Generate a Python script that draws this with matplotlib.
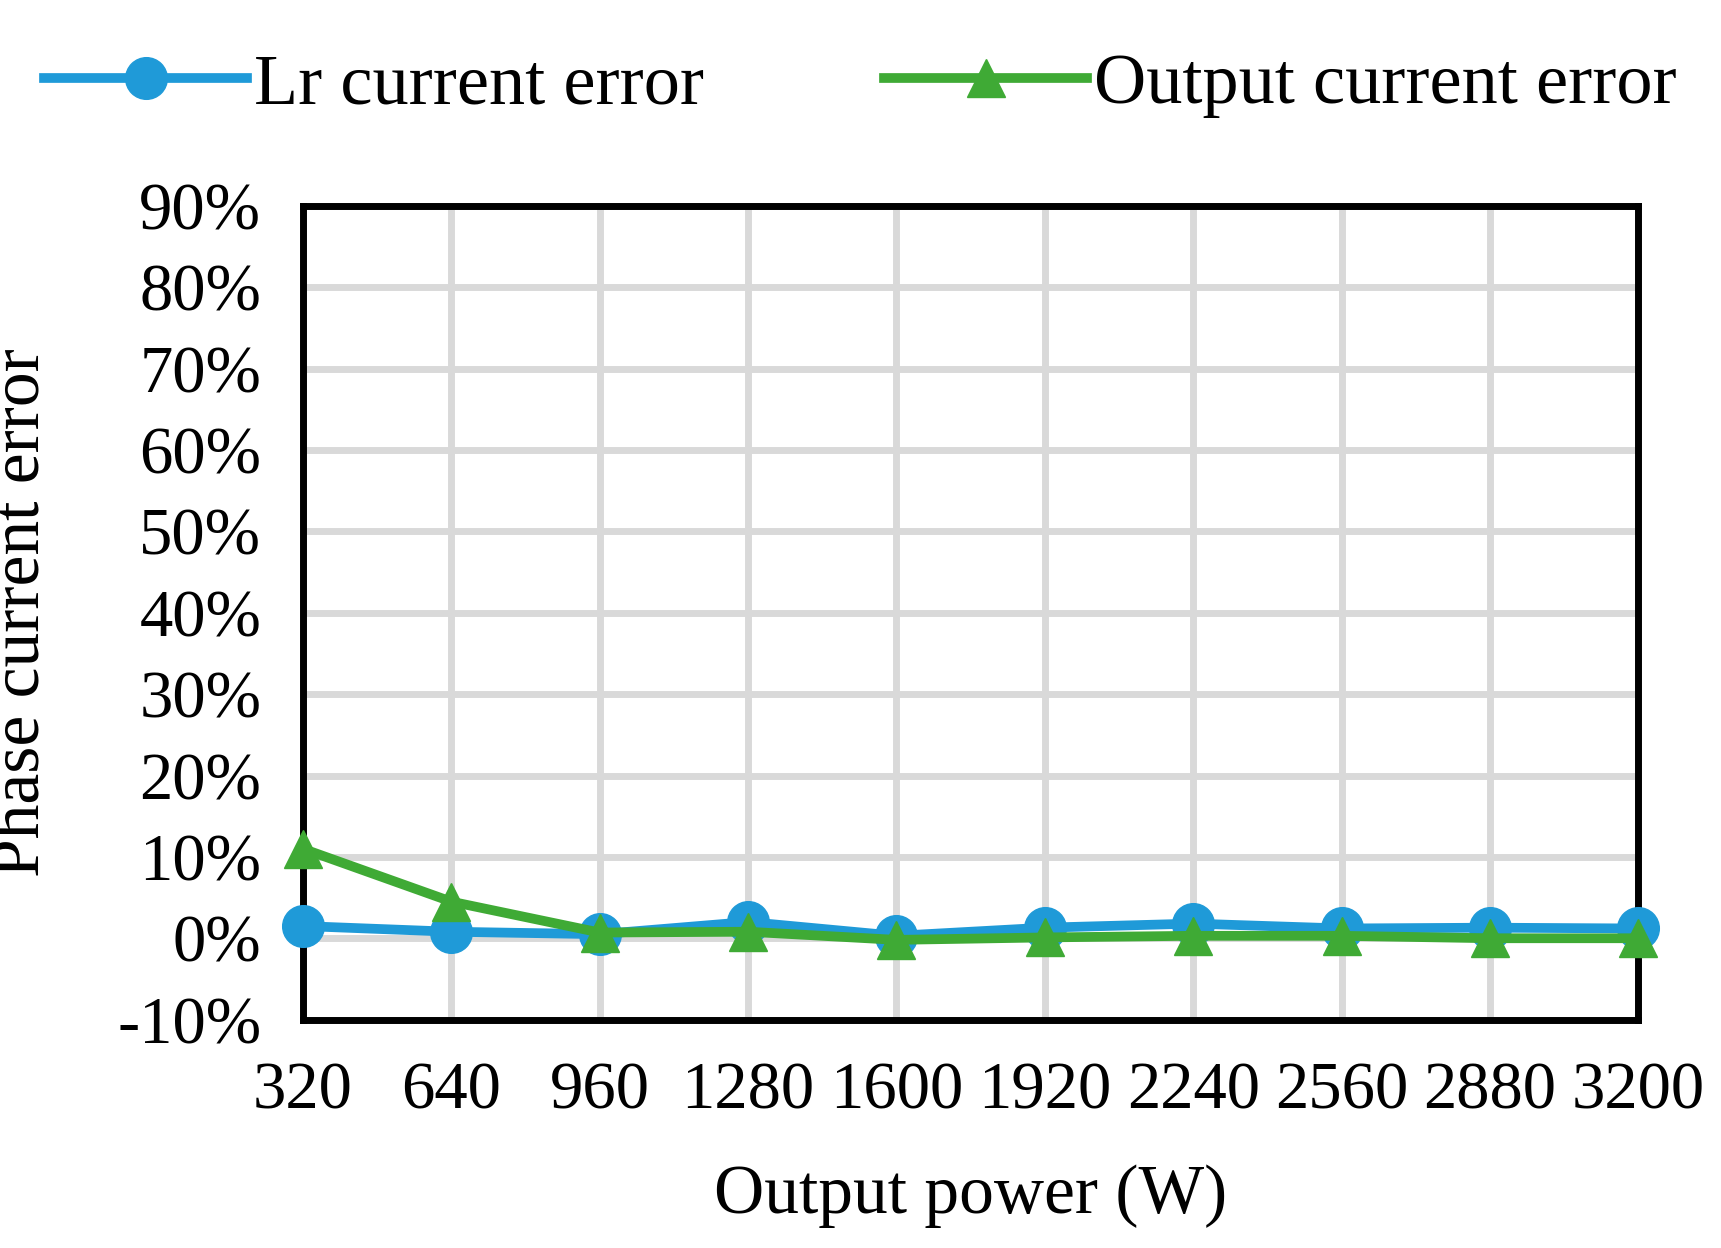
import matplotlib.pyplot as plt
import numpy as np

power = ['320', '640', '960', '1280', '1600', '1920', '2240', '2560', '2880', '3200']
lr_err = [1.5, 0.8, 0.5, 2.0, 0.3, 1.3, 1.8, 1.2, 1.3, 1.2]
out_err = [11.0, 4.5, 0.7, 0.8, -0.2, 0.1, 0.3, 0.3, 0.0, 0.0]
yticks = list(range(-10, 100, 10))

plt.rcParams['font.family'] = ['Liberation Serif', 'DejaVu Serif']

fig = plt.figure(figsize=(17.21, 12.48), dpi=100)
ax = fig.add_axes([0.176, 0.183, 0.776, 0.652])
x = np.arange(len(power))
ax.plot(x, lr_err, color='#1f9ad8', lw=7, marker='o', ms=30, label='Lr current error',
        zorder=3, clip_on=False)
ax.plot(x, out_err, color='#3faa35', lw=7, marker='^', ms=28, label='Output current error',
        zorder=4, clip_on=False)

ax.set_xlim(0, len(power) - 1)
ax.set_ylim(-10, 90)
ax.set_xticks(x)
ax.set_xticklabels(power, fontsize=48)
ax.set_yticks(yticks)
ax.set_yticklabels([f'{v}%' for v in yticks], fontsize=48)
ax.tick_params(length=0, pad=30)
ax.grid(True, color='#d9d9d9', lw=5)
ax.set_axisbelow(True)
for s in ax.spines.values():
    s.set_linewidth(5)
ax.set_xlabel('Output power (W)', fontsize=50, labelpad=30)
ax.set_ylabel('Phase current error', fontsize=50, labelpad=45)

fig.legend(loc='upper center', bbox_to_anchor=(0.5, 1.01), ncol=2, frameon=False,
           fontsize=52, handlelength=2.8, handletextpad=0.1, columnspacing=2.5)
fig.savefig('out.png')
